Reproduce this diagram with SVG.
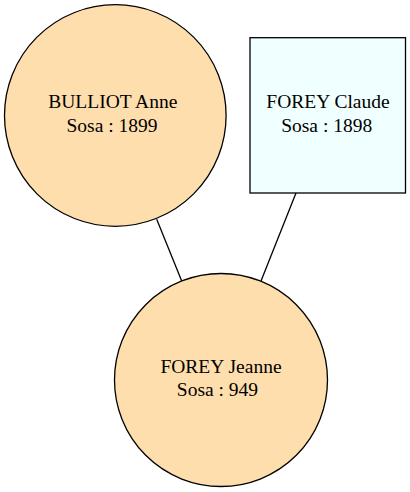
<svg xmlns="http://www.w3.org/2000/svg" width="410" height="492" viewBox="0 0 410 492">
<style>
.f{fill:#ffdead;stroke:#000;stroke-width:1.3}
.m{fill:#f0ffff;stroke:#000;stroke-width:1.3}
.t{font-family:"Liberation Serif","Times New Roman",serif;font-size:19.5px;fill:#000;text-anchor:middle}
.e{stroke:#000;stroke-width:1.3;fill:none}
</style>
<rect width="410" height="492" fill="#fff"/>
<g id="edges">
<line class="e" x1="156.7" y1="219.3" x2="181.7" y2="281"/>
<line class="e" x1="296" y1="193" x2="261" y2="281"/>
</g>
<g id="bulliot_anne">
<circle class="f" cx="115.3" cy="115.5" r="110.8"/>
<text class="t" x="112.8" y="108.3">BULLIOT Anne</text>
<text class="t" x="112" y="131.7">Sosa : 1899</text>
</g>
<g id="forey_claude">
<rect class="m" x="250" y="37.7" width="155.5" height="155.3"/>
<text class="t" x="328" y="108.3">FOREY Claude</text>
<text class="t" x="326.7" y="131.7">Sosa : 1898</text>
</g>
<g id="forey_jeanne">
<circle class="f" cx="221" cy="380" r="106.5"/>
<text class="t" x="221" y="373.3">FOREY Jeanne</text>
<text class="t" x="217.5" y="396">Sosa : 949</text>
</g>
</svg>
